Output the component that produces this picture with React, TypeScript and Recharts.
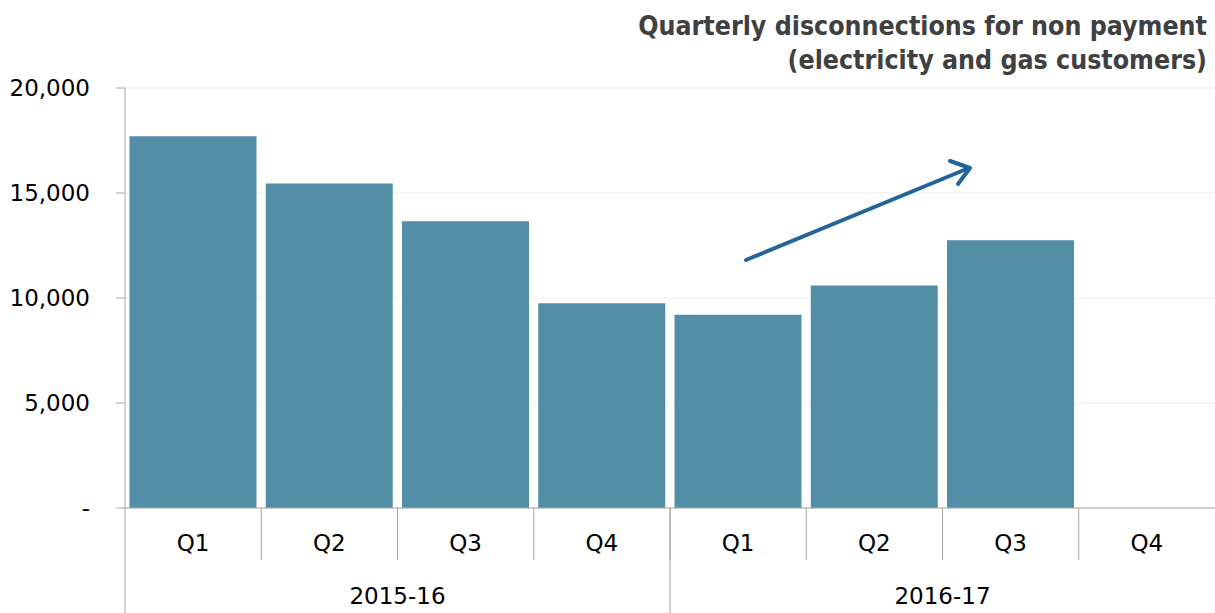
import React from 'react';
import { BarChart, Bar, XAxis, YAxis, CartesianGrid } from 'recharts';

const quarters = ['Q1', 'Q2', 'Q3', 'Q4', 'Q1', 'Q2', 'Q3', 'Q4'];
const years = ['2015-16', '2015-16', '2015-16', '2015-16', '2016-17', '2016-17', '2016-17', '2016-17'];
const disconnections = [17700, 15450, 13650, 9750, 9200, 10600, 12750, null];
const yTicks = [0, 5000, 10000, 15000, 20000];

const data = quarters.map((q, i) => ({ key: `${years[i]}-${q}`, quarter: q, year: years[i], value: disconnections[i] }));

const W = 1215;
const H = 613;
const LEFT = 125;
const TOP = 88;
const Q_AXIS_H = 52;
const Y_AXIS_H = 53;
const PLOT_W = W - LEFT;
const uniqueYears = Array.from(new Set(years));

const FONT = '"DejaVu Sans", Verdana, sans-serif';
const LINE = '#a6a6a6';

function QuarterTick({ x, y, payload, index }: any) {
  const half = PLOT_W / quarters.length / 2;
  return (
    <g>
      {index > 0 && <line x1={x - half} x2={x - half} y1={y} y2={y + Q_AXIS_H} stroke={LINE} strokeWidth={1} />}
      <text x={x} y={y + 43} textAnchor="middle" fontSize={23} fill="#000" fontFamily={FONT}>
        {quarters[index] ?? payload.value}
      </text>
    </g>
  );
}

function YearTick({ x, y, payload }: any) {
  const half = PLOT_W / uniqueYears.length / 2;
  return (
    <g>
      <line x1={x - half} x2={x - half} y1={y - Q_AXIS_H} y2={y + Y_AXIS_H} stroke={LINE} strokeWidth={1} />
      <text x={x} y={y + 44} textAnchor="middle" fontSize={23} fill="#000" fontFamily={FONT}>
        {payload.value}
      </text>
    </g>
  );
}

export default function App() {
  return (
    <div style={{ position: 'relative', width: W, height: H, background: '#fff' }}>
      <style>{'body{margin:0}'}</style>
      <div
        style={{
          position: 'absolute',
          top: 9,
          right: 8,
          textAlign: 'right',
          fontFamily: '"DejaVu Sans Condensed", "DejaVu Sans", sans-serif',
          fontWeight: 'bold',
          fontSize: 26.5,
          lineHeight: '34px',
          color: '#404040',
        }}
      >
        Quarterly disconnections for non payment
        <br />
        (electricity and gas customers)
      </div>
      <BarChart
        width={W}
        height={H}
        data={data}
        margin={{ top: TOP, right: 0, bottom: 0, left: 0 }}
        barCategoryGap={4.5}
      >
        <CartesianGrid xAxisId="q" vertical={false} stroke="#efefef" />
        <XAxis
          xAxisId="q"
          dataKey="key"
          height={Q_AXIS_H}
          interval={0}
          tickLine={false}
          tickSize={0}
          tickMargin={0}
          axisLine={{ stroke: LINE }}
          tick={<QuarterTick />}
        />
        <XAxis
          xAxisId="year"
          dataKey="year"
          allowDuplicatedCategory={false}
          height={Y_AXIS_H}
          interval={0}
          tickLine={false}
          tickSize={0}
          tickMargin={0}
          axisLine={false}
          tick={<YearTick />}
        />
        <YAxis
          width={LEFT}
          domain={[0, 20000]}
          ticks={yTicks}
          interval={0}
          tickSize={9}
          tickMargin={26}
          axisLine={{ stroke: LINE }}
          tickLine={{ stroke: LINE }}
          tick={{ fontSize: 23, fill: '#000', fontFamily: FONT }}
          tickFormatter={(v: number) => (v === 0 ? '-' : v.toLocaleString('en-US'))}
        />
        <Bar xAxisId="q" dataKey="value" fill="#538ea7" isAnimationActive={false} />
      </BarChart>
      <svg width={W} height={H} style={{ position: 'absolute', left: 0, top: 0, pointerEvents: 'none' }}>
        <line x1={746} y1={260} x2={969} y2={168} stroke="#23649b" strokeWidth={4} strokeLinecap="round" />
        <polyline points="950,161 970,168 958,184" fill="none" stroke="#23649b" strokeWidth={4} strokeLinecap="round" strokeLinejoin="round" />
      </svg>
    </div>
  );
}
